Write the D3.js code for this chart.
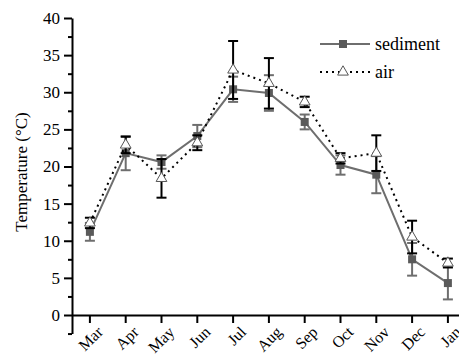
<!DOCTYPE html>
<html>
<head>
<meta charset="utf-8">
<script src="https://cdn.jsdelivr.net/npm/d3@7"></script>
<style>
  #chart text { font-family: "Times New Roman", "Liberation Serif", Tinos, serif !important; }
</style>
</head>
<body style="margin:0;background:#fff">
<svg id="chart" width="459" height="357"></svg>
<script>
const months = ["Mar", "Apr", "May", "Jun", "Jul", "Aug", "Sep", "Oct", "Nov", "Dec", "Jan"];
const sediment = [11.2, 21.8, 20.6, 24.1, 30.4, 29.9, 26.0, 20.2, 18.9, 7.5, 4.3];
const sedimentErr = [1.2, 2.3, 0.9, 1.5, 1.7, 2.4, 1.0, 1.3, 2.5, 2.2, 2.2];
const air = [12.4, 22.9, 18.4, 23.2, 33.0, 31.2, 28.7, 21.1, 21.8, 10.5, 7.0];
const airErr = [0.7, 1.1, 2.6, 1.0, 3.9, 3.4, 0.7, 0.7, 2.4, 2.2, 0.6];
const yTicks = [0, 5, 10, 15, 20, 25, 30, 35, 40];
const yMinorTicks = [-2.5, 2.5, 7.5, 12.5, 17.5, 22.5, 27.5, 32.5, 37.5];

const FONT = "Times New Roman";
const svg = d3.select("#chart");
const plotLeft = 72, plotTop = 18, zeroY = 315;

const x = d3.scaleBand()
  .domain(months)
  .range([plotLeft, plotLeft + 35.8 * months.length])
  .padding(0);

const y = d3.scaleLinear()
  .domain([-2.5, 40])
  .range([zeroY + 2.5 * (zeroY - plotTop) / 40, plotTop]);

const cx = d => x(d) + x.bandwidth() / 2;

// y axis minor ticks
svg.append("g")
  .attr("transform", `translate(${plotLeft},0)`)
  .call(d3.axisLeft(y).tickValues(yMinorTicks).tickSize(4).tickSizeOuter(0).tickFormat(""))
  .call(g => g.select(".domain").remove())
  .selectAll("line").attr("stroke", "#000").attr("stroke-width", 2);

// y axis major
const yAxis = svg.append("g")
  .attr("transform", `translate(${plotLeft},0)`)
  .call(d3.axisLeft(y).tickValues(yTicks).tickSize(8).tickSizeOuter(0).tickPadding(4))
  .attr("font-family", FONT);
yAxis.select(".domain").attr("stroke-width", 2);
yAxis.selectAll("line").attr("stroke-width", 2);
yAxis.selectAll("text").attr("fill", "#000")
  .attr("font-family", FONT).attr("font-size", 17);

// x axis
const xAxis = svg.append("g")
  .attr("transform", `translate(0,${y(0)})`)
  .call(d3.axisBottom(x).tickSize(8).tickSizeOuter(0))
  .attr("font-family", FONT);
xAxis.select(".domain").attr("stroke-width", 2);
xAxis.selectAll("line").attr("stroke-width", 2);
xAxis.selectAll("text")
  .attr("fill", "#000")
  .attr("font-family", FONT).attr("font-size", 16)
  .attr("y", 0).attr("dy", 0)
  .attr("text-anchor", "end")
  .attr("transform", "translate(14,18) rotate(-45)");

// y label
svg.append("text")
  .attr("transform", `translate(27,172) rotate(-90)`)
  .attr("text-anchor", "middle")
  .attr("font-family", FONT).attr("font-size", 17)
  .text("Temperature (°C)");

const gray = "#6e6e6e";
const capW = 5;

function errorBars(vals, errs, color) {
  const g = svg.append("g").attr("stroke", color).attr("stroke-width", 2);
  months.forEach((m, i) => {
    const px = cx(m), lo = y(vals[i] - errs[i]), hi = y(vals[i] + errs[i]);
    g.append("line").attr("x1", px).attr("x2", px).attr("y1", lo).attr("y2", hi);
    g.append("line").attr("x1", px - capW).attr("x2", px + capW).attr("y1", lo).attr("y2", lo);
    g.append("line").attr("x1", px - capW).attr("x2", px + capW).attr("y1", hi).attr("y2", hi);
  });
}

const line = vals => d3.line().x((d, i) => cx(months[i])).y(d => y(d))(vals);

// sediment
errorBars(sediment, sedimentErr, gray);
svg.append("path").attr("d", line(sediment)).attr("fill", "none")
  .attr("stroke", gray).attr("stroke-width", 2);
svg.selectAll(".sq").data(sediment).enter().append("rect")
  .attr("x", (d, i) => cx(months[i]) - 4).attr("y", d => y(d) - 4)
  .attr("width", 8).attr("height", 8).attr("fill", "#5a5a5a");

// air
errorBars(air, airErr, "#000");
svg.append("path").attr("d", line(air)).attr("fill", "none")
  .attr("stroke", "#000").attr("stroke-width", 2).attr("stroke-dasharray", "2,4");
const tri = d3.symbol().type(d3.symbolTriangle).size(50);
svg.selectAll(".tri").data(air).enter().append("path")
  .attr("d", tri)
  .attr("transform", (d, i) => `translate(${cx(months[i])},${y(d)})`)
  .attr("fill", "#fff").attr("stroke", "#555").attr("stroke-width", 1);

// legend
const lg = svg.append("g");
lg.append("line").attr("x1", 320).attr("x2", 370).attr("y1", 44).attr("y2", 44)
  .attr("stroke", gray).attr("stroke-width", 2);
lg.append("rect").attr("x", 339).attr("y", 40).attr("width", 8).attr("height", 8).attr("fill", "#5a5a5a");
lg.append("text").attr("x", 375).attr("y", 50)
  .attr("font-family", FONT).attr("font-size", 18).text("sediment");
lg.append("line").attr("x1", 320).attr("x2", 370).attr("y1", 72).attr("y2", 72)
  .attr("stroke", "#000").attr("stroke-width", 2).attr("stroke-dasharray", "2,4");
lg.append("path").attr("d", tri).attr("transform", "translate(343,72)")
  .attr("fill", "#fff").attr("stroke", "#555").attr("stroke-width", 1);
lg.append("text").attr("x", 375).attr("y", 78)
  .attr("font-family", FONT).attr("font-size", 18).text("air");
</script>
</body>
</html>
